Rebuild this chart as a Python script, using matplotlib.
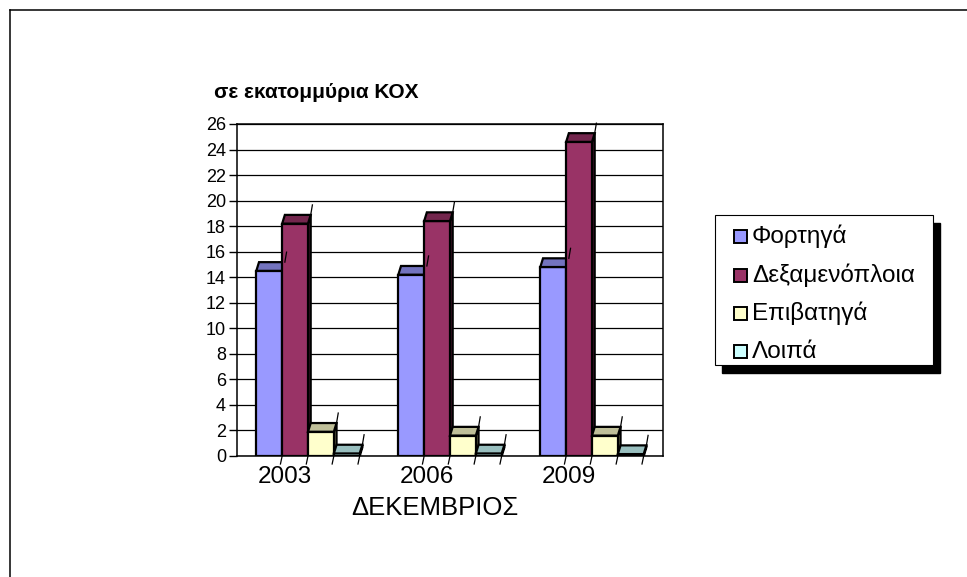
import matplotlib
matplotlib.use('Agg')
import matplotlib.pyplot as plt
from matplotlib.patches import Rectangle, Polygon
from matplotlib.lines import Line2D

# data (millions of GT)
years = ['2003', '2006', '2009']
series = ['Φορτηγά', 'Δεξαμενόπλοια', 'Επιβατηγά', 'Λοιπά']
fortiga = [14.5, 14.2, 14.8]
dexamenoploia = [18.2, 18.4, 24.6]
epivatiga = [1.9, 1.6, 1.6]
loipa = [0.2, 0.2, 0.15]
yticks = list(range(0, 27, 2))

front_colors = ['#9999FF', '#993366', '#FFFFCC', '#CCFFFF']
top_colors = ['#7373BF', '#73264D', '#BFBF99', '#99BFBF']
side_colors = ['#5C5C99', '#5C1F3D', '#999973', '#7A9999']

W, H = 967, 577
plt.rcParams['font.family'] = ['Liberation Sans', 'DejaVu Sans']
fig = plt.figure(figsize=(W / 100, H / 100), dpi=100)


def fx(x):
    return x / W


def fy(y):
    return 1 - y / H


ax = fig.add_axes([fx(237), fy(456), fx(663) - fx(237), fy(124) - fy(456)])
ax.set_xlim(-0.5, 2.5)
ax.set_ylim(0, 26)

ax.set_yticks(yticks)
ax.tick_params(axis='y', length=6, width=1, pad=2, labelsize=13)
ax.yaxis.grid(True, color='black', linewidth=0.9)
ax.set_axisbelow(True)
ax.set_xticks([i - 0.16 for i in range(len(years))], years)
ax.tick_params(axis='x', length=0, pad=7, labelsize=17.5)
for s in ax.spines.values():
    s.set_linewidth(1.1)
    s.set_color('black')

# pseudo 3D columns
values = [fortiga, dexamenoploia, epivatiga, loipa]
w = 0.182
dx = 2.7 / 142
dy = 8.7 * 26 / 332
sx = 1.7 / 142
sy = 10 * 26 / 332
edge = dict(edgecolor='black', linewidth=1.6, joinstyle='miter')
for j in range(len(years)):
    for i, vals in enumerate(values):
        x0 = j + (i - 2) * w
        x1 = x0 + w
        h = vals[j]
        ax.add_patch(Polygon([(x1, 0), (x1 + dx, dy), (x1 + dx, h + dy), (x1, h)],
                             facecolor=side_colors[i], **edge))
        ax.add_patch(Rectangle((x0, 0), w, h, facecolor=front_colors[i], **edge))
        ax.add_patch(Polygon([(x0, h), (x1, h), (x1 + dx, h + dy), (x0 + dx, h + dy)],
                             facecolor=top_colors[i], **edge))
        ax.add_line(Line2D([x1 + dx, x1 + dx + sx], [h + dy, h + dy + sy],
                           color='black', linewidth=0.9, clip_on=False))
        ax.add_line(Line2D([x1, x1 - sx], [0, -0.8 * sy],
                           color='black', linewidth=0.9, clip_on=False))

# texts
fig.text(fx(214), fy(93), 'σε εκατομμύρια ΚΟΧ', fontsize=15, fontweight='bold',
         ha='left', va='center')
fig.text(fx(435), fy(508), 'ΔΕΚΕΜΒΡΙΟΣ', fontsize=18.5, ha='center', va='center')

# legend with hard shadow
fig.add_artist(Rectangle((fx(722), fy(373)), 218 / W, 150 / H, transform=fig.transFigure,
                         facecolor='black', edgecolor='black'))
fig.add_artist(Rectangle((fx(715), fy(365)), 218 / W, 150 / H, transform=fig.transFigure,
                         facecolor='white', edgecolor='black', linewidth=0.8))
rows = [236.7, 275, 313, 351.7]
for i, name in enumerate(series):
    fig.add_artist(Rectangle((fx(734), fy(rows[i] + 6.5)), 13 / W, 13 / H,
                             transform=fig.transFigure, facecolor=front_colors[i],
                             edgecolor='black', linewidth=1.4))
    fig.text(fx(752), fy(rows[i]), name, fontsize=17.5, ha='left', va='center')

# outer frame (cut on right and bottom)
fig.add_artist(Line2D([fx(10), fx(10)], [0, fy(10)], transform=fig.transFigure,
                      color='black', linewidth=1.1))
fig.add_artist(Line2D([fx(10), 1], [fy(10), fy(10)], transform=fig.transFigure,
                      color='black', linewidth=1.1))

fig.savefig('out.png', dpi=100)
